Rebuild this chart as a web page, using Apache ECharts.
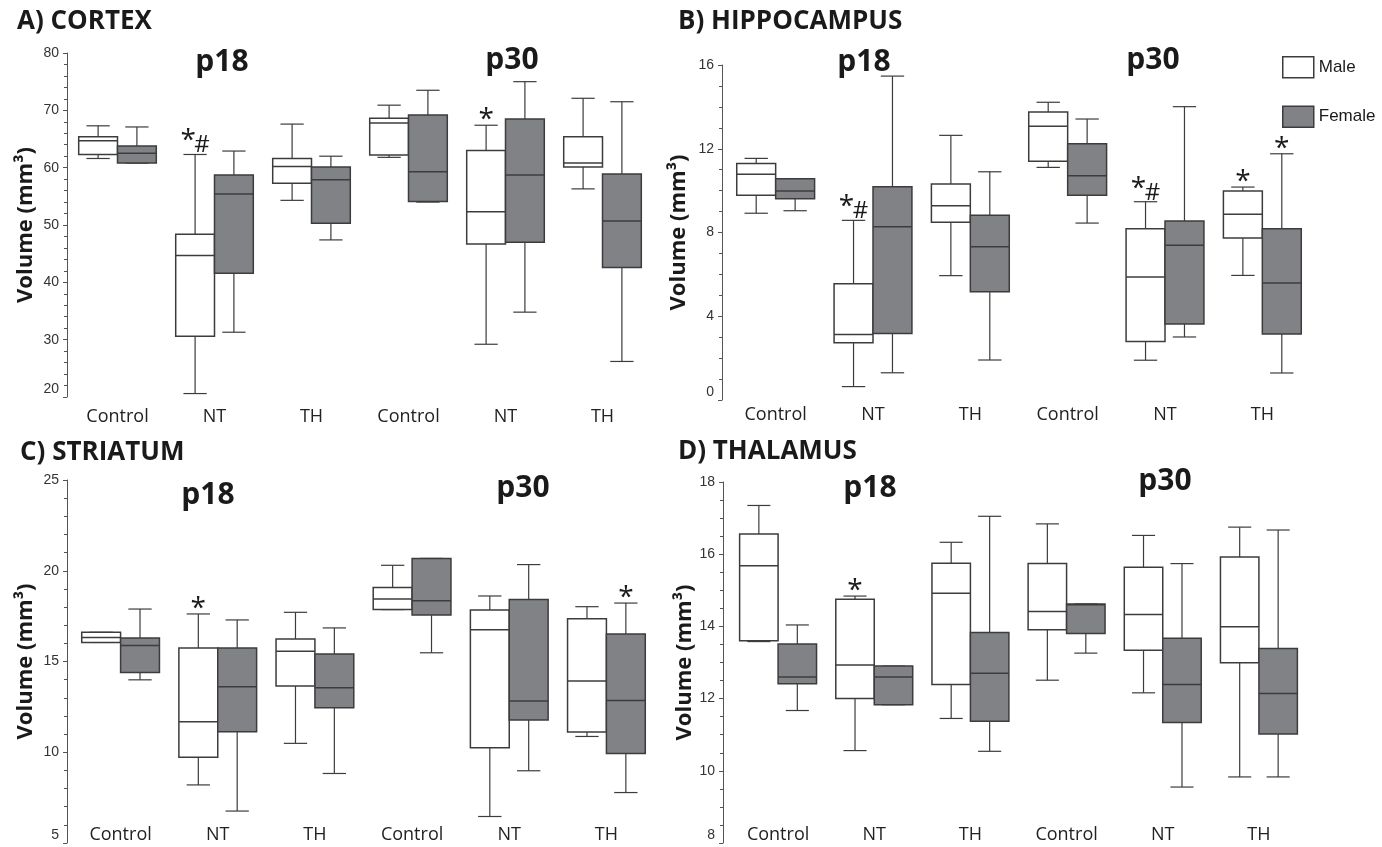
<!DOCTYPE html>
<html lang="en">
<head>
    <meta charset="UTF-8">
    <title>Regional brain volume, p18 / p30</title>
    <script type="text/javascript" src="https://cdn.jsdelivr.net/npm/echarts@6/dist/echarts.min.js"></script>
    <style>
        html, body { margin: 0; padding: 0; background: #fff; }
    </style>
</head>
<body>
<div id="chart" style="width: 1382px;height:847px;"></div>
<script>

    // groups on every x axis (p18 then p30)
    var groups = ['Control', 'NT', 'TH', 'Control', 'NT', 'TH'];

    // box values per group: [min, Q1, median, Q3, max]  (mm3)
    var cortexMale = [[61.6, 62.3, 64.7, 65.4, 67.3], [20.6, 30.6, 44.7, 48.4, 62.3], [54.3, 57.3, 60.2, 61.6, 67.6],
        [61.8, 62.2, 67.8, 68.6, 70.9], [29.2, 46.7, 52.3, 63.0, 67.4], [56.3, 60.1, 60.8, 65.4, 72.1]];
    var cortexFemale = [[60.8, 60.8, 62.5, 63.8, 67.1], [31.3, 41.6, 55.4, 58.7, 62.9], [47.4, 50.3, 57.9, 60.1, 62.0],
        [54.0, 54.1, 59.3, 69.2, 73.5], [34.8, 47.0, 58.7, 68.5, 75.0], [26.2, 42.6, 50.7, 58.9, 71.5]];

    var hippoMale = [[8.92, 9.78, 10.78, 11.29, 11.54], [0.64, 2.74, 3.13, 5.55, 8.58], [5.94, 8.49, 9.28, 10.32, 12.64],
        [11.11, 11.40, 13.08, 13.75, 14.22], [1.90, 2.80, 5.87, 8.18, 9.47], [5.95, 7.74, 8.87, 9.98, 10.17]];
    var hippoFemale = [[9.04, 9.61, 9.98, 10.57, 10.57], [1.30, 3.18, 8.28, 10.19, 15.47], [1.91, 5.17, 7.32, 8.82, 10.90],
        [8.45, 9.78, 10.71, 12.24, 13.42], [3.01, 3.63, 7.39, 8.55, 14.01], [1.29, 3.15, 5.59, 8.18, 11.76]];

    var striatumMale = [[16.05, 16.05, 16.32, 16.61, 16.61], [8.20, 9.72, 11.68, 15.75, 17.62], [10.49, 13.65, 15.56, 16.24, 17.71],
        [17.86, 17.86, 18.44, 19.08, 20.30], [6.46, 10.25, 16.75, 17.84, 18.61], [10.87, 11.12, 13.93, 17.36, 18.02]];
    var striatumFemale = [[13.99, 14.39, 15.88, 16.29, 17.89], [6.76, 11.13, 13.61, 15.75, 17.29], [8.83, 12.45, 13.55, 15.41, 16.85],
        [15.48, 17.56, 18.35, 20.68, 20.68], [8.98, 11.78, 12.82, 18.42, 20.34], [7.78, 9.93, 12.85, 16.52, 18.22]];

    var thalamusMale = [[13.58, 13.60, 15.68, 16.56, 17.35], [10.56, 12.00, 12.93, 14.75, 14.84], [11.45, 12.39, 14.92, 15.75, 16.33],
        [12.51, 13.91, 14.41, 15.74, 16.84], [12.16, 13.34, 14.33, 15.64, 16.52], [9.83, 12.99, 13.99, 15.92, 16.75]];
    var thalamusFemale = [[11.67, 12.41, 12.60, 13.51, 14.04], [11.83, 11.83, 12.60, 12.90, 12.90], [10.54, 11.37, 12.70, 13.83, 17.05],
        [13.26, 13.80, 14.60, 14.62, 14.62], [9.55, 11.34, 12.39, 13.67, 15.74], [9.83, 11.02, 12.14, 13.39, 16.67]];

    // significance marks above the boxes
    var cortexMaleSig = ['', '*#', '', '', '*', ''];
    var cortexFemaleSig = ['', '', '', '', '', ''];
    var hippoMaleSig = ['', '*#', '', '', '*#', '*'];
    var hippoFemaleSig = ['', '', '', '', '', '*'];
    var striatumMaleSig = ['', '*', '', '', '', ''];
    var striatumFemaleSig = ['', '', '', '', '', '*'];
    var thalamusMaleSig = ['', '*', '', '', '', ''];
    var thalamusFemaleSig = ['', '', '', '', '', ''];

    var panels = [
        {title: 'A) CORTEX', male: cortexMale, female: cortexFemale, mSig: cortexMaleSig, fSig: cortexFemaleSig,
            min: 20, max: 80, interval: 10, minor: 5,
            grid: {left: 69, top: 53, width: 582, height: 344}, offset: 2, labelMargin: 20, nameGap: 30},
        {title: 'B) HIPPOCAMPUS', male: hippoMale, female: hippoFemale, mSig: hippoMaleSig, fSig: hippoFemaleSig,
            min: 0, max: 16, interval: 4, minor: 4,
            grid: {left: 727, top: 65, width: 584, height: 335}, offset: 5, labelMargin: 15, nameGap: 32},
        {title: 'C) STRIATUM', male: striatumMale, female: striatumFemale, mSig: striatumMaleSig, fSig: striatumFemaleSig,
            min: 5, max: 25, interval: 5, minor: 5,
            grid: {left: 72, top: 480, width: 583, height: 363}, offset: 5, labelMargin: -8, nameGap: 30},
        {title: 'D) THALAMUS', male: thalamusMale, female: thalamusFemale, mSig: thalamusMaleSig, fSig: thalamusFemaleSig,
            min: 8, max: 18, interval: 2, minor: 4,
            grid: {left: 730, top: 482, width: 577, height: 361}, offset: 7, labelMargin: -8, nameGap: 26}
    ];

    var STROKE = '#3c3c3c';
    var FEMALE = '#818286';

    // draws one box + whiskers; side -1 = male (left half), +1 = female (right half)
    function boxRenderer(side, sigs, fill) {
        return function (params, api) {
            var i = api.value(0);
            var pMin = api.coord([i, api.value(1)]);
            var pQ1 = api.coord([i, api.value(2)]);
            var pMed = api.coord([i, api.value(3)]);
            var pQ3 = api.coord([i, api.value(4)]);
            var pMax = api.coord([i, api.value(5)]);
            var band = api.size([1, 0])[0];
            var w = band * 0.4;
            var cx = pMed[0] + side * w / 2;
            var cap = w * 0.6;
            var ln = {stroke: STROKE, lineWidth: 1.2};
            var kids = [
                {type: 'line', shape: {x1: cx, y1: pQ3[1], x2: cx, y2: pMax[1]}, style: ln},
                {type: 'line', shape: {x1: cx - cap / 2, y1: pMax[1], x2: cx + cap / 2, y2: pMax[1]}, style: ln},
                {type: 'line', shape: {x1: cx, y1: pQ1[1], x2: cx, y2: pMin[1]}, style: ln},
                {type: 'line', shape: {x1: cx - cap / 2, y1: pMin[1], x2: cx + cap / 2, y2: pMin[1]}, style: ln},
                {type: 'rect', shape: {x: cx - w / 2, y: pQ3[1], width: w, height: pQ1[1] - pQ3[1]},
                    style: {fill: fill, stroke: STROKE, lineWidth: 1.5}},
                {type: 'line', shape: {x1: cx - w / 2, y1: pMed[1], x2: cx + w / 2, y2: pMed[1]},
                    style: {stroke: STROKE, lineWidth: 1.5}}
            ];
            var s = sigs[params.dataIndex];
            var top = pMax[1];
            var font = {fontFamily: 'Open Sans', fill: '#1a1a1a', align: 'center', verticalAlign: 'middle'};
            if (s === '*') {
                kids.push({type: 'text', x: cx, y: top - 5, style: Object.assign({text: '*', fontSize: 28}, font)});
            } else if (s === '*#') {
                kids.push({type: 'text', x: cx - 7, y: top - 13, style: Object.assign({text: '*', fontSize: 28}, font)});
                kids.push({type: 'text', x: cx + 7, y: top - 9, style: Object.assign({text: '#', fontSize: 24}, font)});
            }
            return {type: 'group', children: kids};
        };
    }

    function rows(list) {
        return list.map(function (v, i) {
            return [i].concat(v);
        });
    }

    var option = {
        animation: false,
        textStyle: {fontFamily: 'Liberation Sans'},
        legend: {
            left: 1277, top: 51, orient: 'vertical',
            itemWidth: 31, itemHeight: 21, itemGap: 27,
            textStyle: {fontSize: 17, color: '#1a1a1a', fontFamily: 'Liberation Sans'},
            data: [
                {name: 'Male', icon: 'rect', itemStyle: {color: '#fff', borderColor: STROKE, borderWidth: 1.5}},
                {name: 'Female', icon: 'rect', itemStyle: {color: FEMALE, borderColor: STROKE, borderWidth: 1.5}}
            ]
        },
        grid: [], xAxis: [], yAxis: [], series: [],
        graphic: []
    };

    panels.forEach(function (p, k) {
        option.grid.push(p.grid);
        option.xAxis.push({
            type: 'category', gridIndex: k, data: groups,
            axisLine: {show: false}, axisTick: {show: false},
            axisLabel: {margin: p.labelMargin, verticalAlign: 'middle', fontSize: 18, color: '#222', fontFamily: 'Open Sans'}
        });
        option.yAxis.push({
            type: 'value', gridIndex: k, min: p.min, max: p.max, interval: p.interval, offset: p.offset,
            name: 'Volume (mm³)', nameLocation: 'middle', nameGap: p.nameGap,
            nameTextStyle: {fontSize: 22, fontWeight: 'bold', color: '#1a1a1a', fontFamily: 'Open Sans'},
            axisLine: {show: true, lineStyle: {color: '#555', width: 1}},
            axisTick: {show: true, length: 4, lineStyle: {color: '#555'}},
            minorTick: {show: true, splitNumber: p.minor, length: 3, lineStyle: {color: '#555'}},
            splitLine: {show: false},
            axisLabel: {
                fontSize: 14, color: '#333', margin: 8,
                formatter: function (v) {
                    return v === p.min ? '{lo|' + v + '}' : String(v);
                },
                rich: {lo: {fontSize: 14, color: '#333', padding: [0, 0, 15, 0]}}
            }
        });
        option.series.push({
            name: 'Male', type: 'custom', xAxisIndex: k, yAxisIndex: k,
            itemStyle: {color: '#fff'},
            encode: {x: 0, y: [1, 2, 3, 4, 5]},
            renderItem: boxRenderer(-1, p.mSig, '#fff'),
            data: rows(p.male)
        });
        option.series.push({
            name: 'Female', type: 'custom', xAxisIndex: k, yAxisIndex: k,
            itemStyle: {color: FEMALE},
            encode: {x: 0, y: [1, 2, 3, 4, 5]},
            renderItem: boxRenderer(1, p.fSig, FEMALE),
            data: rows(p.female)
        });
    });

    // panel letters and age headings
    var headings = [
        ['A) CORTEX', 17, 22, 'left', 26], ['B) HIPPOCAMPUS', 678, 22, 'left', 26],
        ['C) STRIATUM', 20, 453, 'left', 26], ['D) THALAMUS', 678, 452, 'left', 26],
        ['p18', 222, 62, 'center', 30], ['p30', 512, 60, 'center', 30],
        ['p18', 864, 62, 'center', 30], ['p30', 1153, 60, 'center', 30],
        ['p18', 208, 495, 'center', 30], ['p30', 523, 488, 'center', 30],
        ['p18', 870, 488, 'center', 30], ['p30', 1165, 481, 'center', 30]
    ];
    headings.forEach(function (h) {
        option.graphic.push({
            type: 'text', x: h[1], y: h[2],
            style: {text: h[0], fontSize: h[4], fontWeight: 'bold', fontFamily: 'Open Sans', fill: '#1a1a1a',
                align: h[3], verticalAlign: 'middle'}
        });
    });

    var myChart = echarts.init(document.getElementById('chart'));
    myChart.setOption(option);

</script>
</body>
</html>
